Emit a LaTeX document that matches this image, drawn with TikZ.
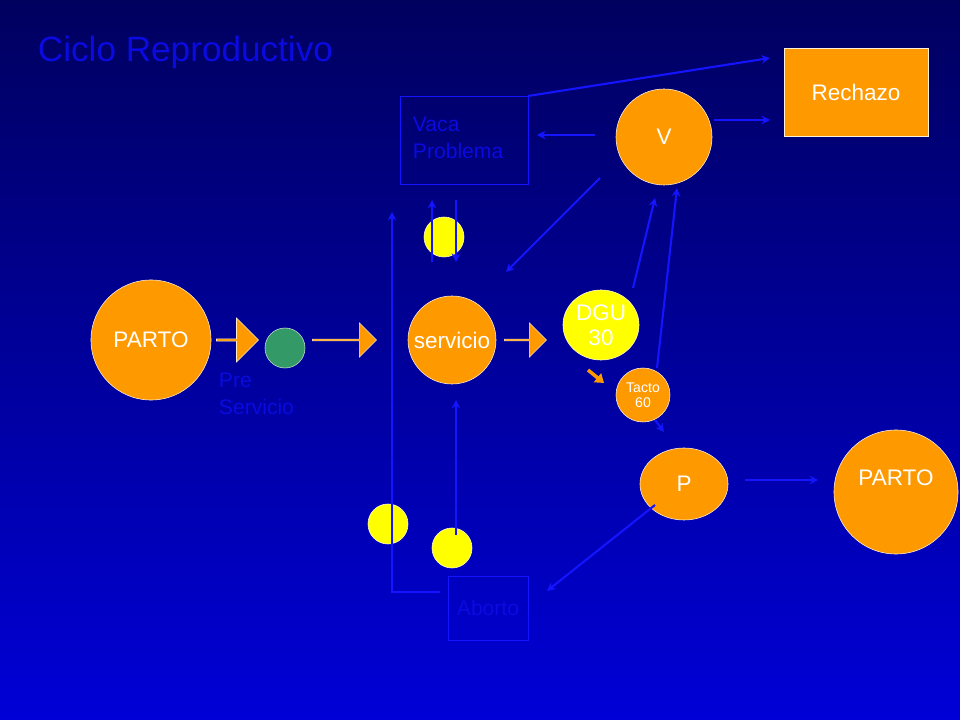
\documentclass[tikz,border=0pt]{standalone}
\usepackage{fontspec}
\setmainfont{Liberation Sans}
\usetikzlibrary{shapes,arrows,positioning,calc,arrows.meta}
\definecolor{navytop}{RGB}{0,0,95}
\definecolor{bluebottom}{RGB}{0,0,215}
\definecolor{linkblue}{RGB}{20,20,255}
\definecolor{textblue}{RGB}{10,10,225}
\definecolor{cowange}{RGB}{255,153,0}
\definecolor{cowyellow}{RGB}{255,255,0}
\definecolor{cowgreen}{RGB}{51,153,102}

\begin{document}
\begin{tikzpicture}[x=0.025cm, y=-0.025cm,
    every node/.style={font=\fontsize{16}{18}\selectfont},
    stage/.style={circle, draw=white!85!cowange, fill=cowange, text=white, inner sep=0pt},
    dot/.style={circle, draw=white!80!cowyellow, fill=cowyellow, minimum size=1cm, inner sep=0pt},
    outbox/.style={rectangle, draw=linkblue, text=textblue, inner sep=0pt},
    link/.style={draw=linkblue, line width=1.5pt, -{Stealth[length=6pt,width=6pt]}},
    fat/.style={single arrow, fill=cowange, draw=white!80!cowange, inner sep=0pt, single arrow head extend=4pt, minimum height=1.1cm, minimum width=1.1cm}]
    % background
    \shade[top color=navytop, bottom color=bluebottom] (0,0) rectangle (960,720);
    \node[text=textblue, font=\fontsize{25}{28}\selectfont, anchor=west] (title) at (33,52) {Ciclo Reproductivo};

    % Boxes
    \node[rectangle, fill=cowange, draw=white!85!cowange, text=white, minimum width=3.6cm, minimum height=2.2cm] (rechazo) at (856,92) {Rechazo};
    \node[outbox, minimum width=3.2cm, minimum height=2.2cm] (vaca) at (464,140) {};
    \node[text=textblue, anchor=north west, align=left, font=\fontsize{15}{19}\selectfont] (vacatxt) at (408,112) {Vaca\\Problema};
    \node[outbox, minimum width=2cm, minimum height=1.6cm, font=\fontsize{15}{18}\selectfont] (aborto) at (488,608) {Aborto};

    % Stages
    \node[stage, minimum size=3cm] (parto1) at (151,340) {PARTO};
    \node[stage, minimum size=2.2cm] (servicio) at (452,340) {servicio};
    \node[stage, minimum size=2.4cm] (v) at (664,137) {V};
    \node[ellipse, fill=cowyellow, draw=white!80!cowyellow, text=white, minimum width=1.9cm, minimum height=1.75cm, inner sep=0pt, align=center] (dgu) at (601,325) {DGU\\30};
    \node[stage, minimum size=1.35cm, align=center, font=\fontsize{10}{11}\selectfont] (tacto) at (643,395) {Tacto\\60};
    \node[stage, ellipse, minimum width=2.2cm, minimum height=1.8cm] (p) at (684,484) {P};
    \node[stage, minimum size=3.1cm] (parto2) at (896,492) {};
    \node[text=white] at (896,478) {PARTO};
    \node[circle, fill=cowgreen, draw=white!70!cowgreen, minimum size=1cm] (pre) at (285,348) {};
    \node[text=textblue, anchor=north west, align=left, font=\fontsize{15}{19}\selectfont] (pretxt) at (214,368) {Pre\\Servicio};

    % Yellow dots
    \node[dot] (d1) at (444,237) {};
    \node[dot] (d2) at (388,524) {};
    \node[dot] (d3) at (452,548) {};

    % Block arrows
    \node[fat, minimum height=1.05cm] (a1) at (237,340) {};
    \node[fat, minimum height=1.6cm, minimum width=0.85cm] (a2) at (344,340) {};
    \node[fat, minimum height=1.05cm, minimum width=0.85cm] (a3) at (525,340) {};
    \coordinate (os) at (588,370);
    \coordinate (oe) at (604,383);
    \draw[cowange, line width=2.5pt, -{Triangle[length=6pt,width=8pt]}] (os) -- (oe);

    % Free ends
    \coordinate (vp1) at (595,135);
    \coordinate (vp2) at (537,135);
    \coordinate (vr1) at (714,120);
    \coordinate (vr2) at (770,120);
    \coordinate (vq) at (528,96);
    \coordinate (rq) at (770,58);
    \coordinate (ds1) at (600,178);
    \coordinate (ds2) at (506,272);
    \coordinate (dv1) at (633,288);
    \coordinate (dv2) at (655,198);
    \coordinate (tv1) at (657,368);
    \coordinate (tv2) at (677,188);
    \coordinate (tp1) at (655,420);
    \coordinate (tp2) at (664,432);
    \coordinate (pp1) at (745,480);
    \coordinate (pp2) at (818,480);
    \coordinate (pa1) at (655,505);
    \coordinate (pa2) at (547,591);
    \coordinate (up1) at (432,262);
    \coordinate (up2) at (432,200);
    \coordinate (dn1) at (456,200);
    \coordinate (dn2) at (456,262);
    \coordinate (ab1) at (440,592);
    \coordinate (ab2) at (392,592);
    \coordinate (ab3) at (392,212);
    \coordinate (ys1) at (456,535);
    \coordinate (ys2) at (456,400);

    % Connections
    \draw[link] (vp1) -- (vp2);
    \draw[link] (vr1) -- (vr2);
    \draw[link] (vq) -- (rq);
    \draw[link] (ds1) -- (ds2);
    \draw[link] (dv1) -- (dv2);
    \draw[link] (tv1) -- (tv2);
    \draw[link] (tp1) -- (tp2);
    \draw[link] (pp1) -- (pp2);
    \draw[link] (pa1) -- (pa2);
    \draw[link] (up1) -- (up2);
    \draw[link] (dn1) -- (dn2);
    \draw[link] (ab1) -- (ab2) -- (ab3);
    \draw[link] (ys1) -- (ys2);
\end{tikzpicture}
\end{document}
